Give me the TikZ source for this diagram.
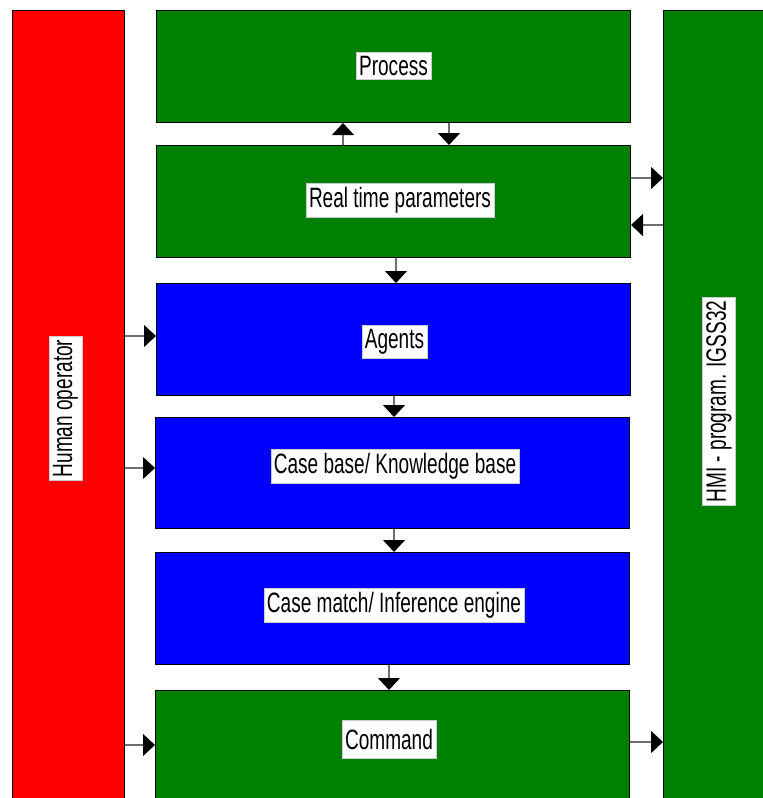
\documentclass[tikz,border=0pt]{standalone}
\usepackage{fontspec}
\newfontfamily\narrowfont[FakeStretch=0.68]{Liberation Sans}
\usetikzlibrary{arrows.meta}
\definecolor{boxgreen}{RGB}{0,128,0}
\definecolor{boxblue}{RGB}{0,0,255}
\definecolor{boxred}{RGB}{255,0,0}
\definecolor{linegray}{RGB}{110,110,110}
\tikzset{
  block/.style={draw=black, line width=1pt, rectangle, inner sep=0pt, anchor=north west},
  tag/.style={fill=white, draw=white!80!black, line width=0.6pt, inner xsep=3pt, inner ysep=4pt,
    font=\narrowfont\fontsize{28}{28}\selectfont, text=black},
  flow/.style={draw=linegray, line width=1.2pt, -{Triangle[length=12pt,width=22pt,fill=black,color=black]}}
}
\begin{document}
\begin{tikzpicture}[x=1pt,y=-1pt]
\useasboundingbox (0,0) rectangle (763,798);
\clip (0,0) rectangle (763,798);
% side columns
\node[block, fill=boxred, minimum width=112pt, minimum height=800pt] (human) at (12,10) {};
\node[block, fill=boxgreen, minimum width=110pt, minimum height=800pt] (hmi) at (663,10) {};
% central stack
\node[block, fill=boxgreen, minimum width=474pt, minimum height=112pt] (proc) at (156,10) {};
\node[block, fill=boxgreen, minimum width=474pt, minimum height=112pt] (rtp) at (156,145) {};
\node[block, fill=boxblue, minimum width=474pt, minimum height=112pt] (agents) at (156,283) {};
\node[block, fill=boxblue, minimum width=474pt, minimum height=111pt] (cbase) at (155,417) {};
\node[block, fill=boxblue, minimum width=474pt, minimum height=112pt] (cmatch) at (155,552) {};
\node[block, fill=boxgreen, minimum width=474pt, minimum height=120pt] (cmd) at (155,690) {};
% labels
\node[tag] (lproc) at (393.5,66) {Process};
\node[tag] (lrtp) at (400,200) {Real time parameters};
\node[tag] (lagents) at (394.5,341.5) {Agents};
\node[tag] (lcbase) at (395,466.5) {Case base/ Knowledge base};
\node[tag] (lcmatch) at (394,605) {Case match/ Inference engine};
\node[tag, minimum height=38pt] (lcmd) at (389,739) {Command};
\node[tag, rotate=90] (lhuman) at (65.5,408.5) {Human operator};
\node[tag, rotate=90] (lhmi) at (719,401.5) {HMI - program. IGSS32};
% connectors
\draw[flow] (rtp.north -| 343,0) -- (proc.south -| 343,0);
\draw[flow] (proc.south -| 449,0) -- (rtp.north -| 449,0);
\draw[flow] (rtp.south -| 396,0) -- (agents.north -| 396,0);
\draw[flow] (agents.south -| 394,0) -- (cbase.north -| 394,0);
\draw[flow] (cbase.south -| 394,0) -- (cmatch.north -| 394,0);
\draw[flow] (cmatch.south -| 389,0) -- (cmd.north -| 389,0);
\draw[flow] (rtp.east |- 0,178) -- (hmi.west |- 0,178);
\draw[flow] (hmi.west |- 0,225) -- (rtp.east |- 0,225);
\draw[flow] (cmd.east |- 0,742) -- (hmi.west |- 0,742);
\draw[flow] (human.east |- 0,336) -- (agents.west |- 0,336);
\draw[flow] (human.east |- 0,468) -- (cbase.west |- 0,468);
\draw[flow] (human.east |- 0,745) -- (cmd.west |- 0,745);
\end{tikzpicture}
\end{document}
